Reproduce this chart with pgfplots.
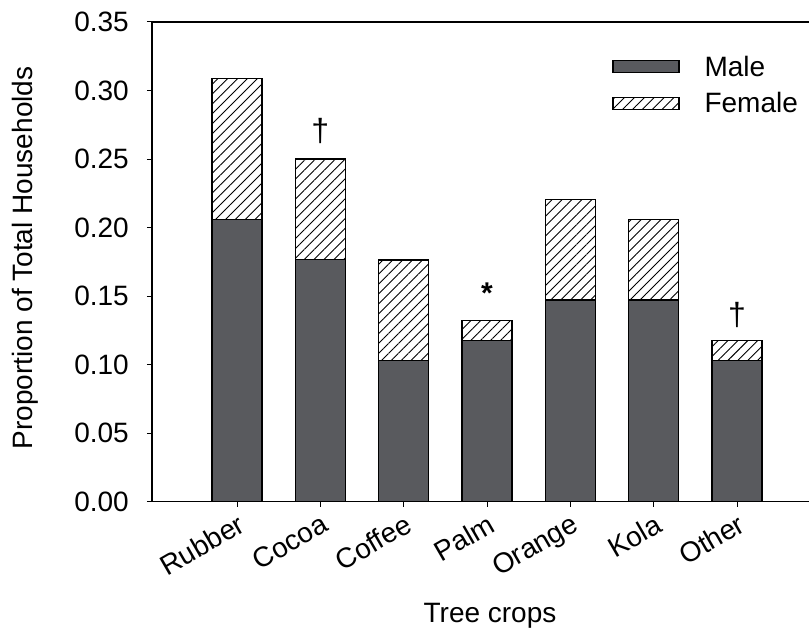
\documentclass[border=0pt]{standalone}
\usepackage{pgfplots}
\pgfplotsset{compat=1.18}
\usepackage{fontspec}
\setmainfont{Liberation Sans}
\usetikzlibrary{patterns.meta,calc}
\definecolor{malegray}{RGB}{89,90,94}
\pgfplotsset{mylegend/.style={legend image code/.code={\draw[##1,line width=1.4pt] (0pt,-6pt) rectangle (66pt,6pt);}}}
\begin{document}
\begin{tikzpicture}
\begin{axis}[
  scale only axis,
  width=657pt, height=479.7pt,
  xmin=-1.02, xmax=6.864,
  ymin=0, ymax=0.35,
  ybar stacked, bar width=0.6,
  every axis plot post/.append style={mylegend},
  axis x line*=bottom, axis y line*=left,
  axis line style={line width=1.2pt, -},
  clip=false,
  xtick={0,1,2,3,4,5,6},
  xticklabels={Rubber,Cocoa,Coffee,Palm,Orange,Kola,Other},
  ytick={0,0.05,0.10,0.15,0.20,0.25,0.30,0.35},
  /pgf/number format/assume math mode=true,
  yticklabel style={/pgf/number format/fixed, /pgf/number format/fixed zerofill, /pgf/number format/precision=2, anchor=east, inner sep=0pt, xshift=-18pt},
  xticklabel style={rotate=30, anchor=north east, inner sep=0pt, xshift=-3pt, yshift=-5pt},
  tick align=outside, major tick length=5pt,
  tick style={line width=1pt, black},
  font=\fontsize{28}{33}\selectfont,
  xlabel={Tree crops},
  xlabel style={at={(rel axis cs:0.5,0)}, anchor=base, xshift=9.5pt, yshift=-120.3pt},
  ylabel={Proportion of Total Households},
  ylabel style={at={(rel axis cs:0,0.508)}, anchor=center, yshift=127pt},
  legend style={draw=none, fill=none, at={(rel axis cs:0.70,0.93)}, anchor=north west, inner sep=0pt, row sep=15pt, column sep=25pt, nodes={inner sep=0pt}, font=\fontsize{28}{33}\selectfont},
  legend cell align=left,
]
\addplot[fill=malegray, draw=black, line width=1.4pt, mylegend] coordinates {(0,0.2059) (1,0.1765) (2,0.1029) (3,0.1176) (4,0.1471) (5,0.1471) (6,0.1029)};
\addlegendentry{Male}
\addplot[fill=white, pattern={Lines[angle=45,distance=7pt,line width=0.9pt]}, pattern color=black, draw=black, line width=1.4pt, mylegend] coordinates {(0,0.1029) (1,0.0735) (2,0.0735) (3,0.0147) (4,0.0735) (5,0.0588) (6,0.0147)};
\addlegendentry{Female}
\draw[line width=1.2pt] (rel axis cs:0,1) -- (rel axis cs:1,1);
\node[anchor=center, font=\fontsize{32}{36}\selectfont] at (axis cs:1,0.2704) {†};
\node[anchor=center, font=\fontsize{30}{36}\selectfont] at (axis cs:3,0.1525) {\textbf{*}};
\node[anchor=center, font=\fontsize{32}{36}\selectfont] at (axis cs:6,0.1362) {†};
\coordinate (SW) at (rel axis cs:0,0);
\coordinate (NE) at (rel axis cs:1,1);
\end{axis}
\pgfresetboundingbox
\path[use as bounding box] ($(SW)+(-152pt,-131.3pt)$) rectangle ($(NE)+(0pt,22pt)$);
\end{tikzpicture}
\end{document}
